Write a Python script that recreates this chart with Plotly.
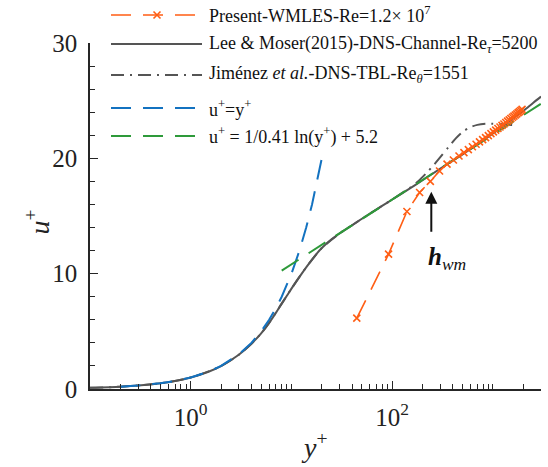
import plotly.graph_objects as go

# ---- data ----
# Present WMLES, Re = 1.2e7
wm_yp = [44.5, 92, 140, 187, 239, 295, 350, 405, 460, 515, 570, 625, 680, 735,
         790, 845, 900, 955, 1010, 1065, 1120, 1175, 1230, 1285, 1340, 1395,
         1450, 1505, 1560, 1615, 1670, 1725, 1780, 1835, 1890, 1945]
wm_up = [6.14, 11.69, 15.39, 17.04, 18.0, 18.9, 19.5, 19.86, 20.2, 20.49,
         20.76, 21.0, 21.22, 21.43, 21.62, 21.8, 21.97, 22.14, 22.29, 22.44,
         22.59, 22.72, 22.86, 22.98, 23.11, 23.23, 23.34, 23.45, 23.56, 23.66,
         23.76, 23.86, 23.96, 24.05, 24.15, 24.24]

# Lee & Moser (2015) channel DNS, Re_tau = 5200
lm_yp = [0.1, 0.2, 0.3, 0.5, 0.7, 1, 1.5, 2, 3, 4, 5, 6, 7, 8, 9, 10, 12, 14,
         16, 18, 20, 25, 30, 40, 50, 60, 80, 100, 150, 200, 300, 400, 500, 700,
         1000, 1500, 2000, 2500, 3000]
lm_up = [0.1, 0.2, 0.3, 0.5, 0.7, 1.0, 1.5, 1.99, 2.97, 3.92, 4.83, 5.74, 6.6,
         7.4, 8.08, 8.7, 9.72, 10.55, 11.22, 11.78, 12.22, 12.98, 13.48, 14.2,
         14.76, 15.2, 15.9, 16.43, 17.4, 18.1, 19.1, 19.8, 20.35, 21.2, 22.15,
         23.3, 24.1, 24.8, 25.35]

# Jimenez et al. boundary-layer DNS, Re_theta = 1551
tbl_yp = [0.1, 0.2, 0.5, 1, 2, 3, 4, 5, 6, 8, 10, 12, 15, 20, 30, 40, 60, 80,
          100, 150, 180, 220, 260, 300, 360, 430, 510, 600, 700, 850, 1000,
          1250, 1550]
tbl_up = [0.1, 0.2, 0.5, 1.0, 1.99, 2.97, 3.92, 4.83, 5.74, 7.4, 8.7, 9.72,
          10.9, 12.22, 13.48, 14.2, 15.2, 15.9, 16.43, 17.45, 18.0, 18.75,
          19.45, 20.1, 20.95, 21.75, 22.35, 22.7, 22.9, 23.0, 23.0, 22.95, 22.9]

# viscous sublayer u+ = y+
vs_yp = [0.2, 0.3, 0.5, 0.7, 1, 1.5, 2, 3, 4, 5, 6, 7, 8, 10, 12, 14, 16, 18, 20]
vs_up = [0.2, 0.3, 0.5, 0.7, 1, 1.5, 2, 3, 4, 5, 6, 7, 8, 10, 12, 14, 16, 18, 20]

# log law u+ = 1/0.41 ln(y+) + 5.2
ll_yp = [8, 3000]
ll_up = [10.27, 24.73]

legend_labels = [
    "Present-WMLES-Re=1.2\u00d7 10<sup>7</sup>",
    "Lee &amp; Moser(2015)-DNS-Channel-Re<sub><i>\u03c4</i></sub>=5200",
    "Jim\u00e9nez <i>et al.</i>-DNS-TBL-Re<sub><i>\u03b8</i></sub>=1551",
    "u<sup>+</sup>=y<sup>+</sup>",
    "u<sup>+</sup> = 1/0.41 ln(y<sup>+</sup>) + 5.2",
]

ORANGE = "#FF5E14"
GRAY = "#555555"
BLUE = "#1372C0"
GREEN = "#2E9A3A"
DASH = "20px,12px"
DASHDOT = "13px,6px,2px,6px"

fig = go.Figure()
fig.add_trace(go.Scatter(x=lm_yp, y=lm_up, mode="lines",
                         line=dict(color=GRAY, width=2, shape="spline",
                                   smoothing=0.8)))
fig.add_trace(go.Scatter(x=tbl_yp, y=tbl_up, mode="lines",
                         line=dict(color=GRAY, width=2, dash=DASHDOT,
                                   shape="spline", smoothing=0.8)))
fig.add_trace(go.Scatter(x=vs_yp, y=vs_up, mode="lines",
                         line=dict(color=BLUE, width=2, dash=DASH)))
fig.add_trace(go.Scatter(x=ll_yp, y=ll_up, mode="lines",
                         line=dict(color=GREEN, width=2, dash=DASH)))
fig.add_trace(go.Scatter(x=wm_yp, y=wm_up, mode="lines+markers",
                         line=dict(color=ORANGE, width=1.6, dash=DASH),
                         marker=dict(symbol="x-thin", size=7,
                                     line=dict(color=ORANGE, width=1.6))))

# plot-area geometry in pixels (for the hand-drawn legend)
W, H = 548, 467
L, R, T, B = 90, 7, 43, 78
pw, ph = W - L - R, H - T - B


def px(xp):
    return (xp - L) / pw


def py(yp):
    return (H - B - yp) / ph


shapes = []
annotations = []
rows = [15, 44, 75, 108, 136]
styles = [(ORANGE, DASH, 1.6), (GRAY, "solid", 2), (GRAY, DASHDOT, 2),
          (BLUE, DASH, 2), (GREEN, DASH, 2)]
for yr, (c, d, w), lab in zip(rows, styles, legend_labels):
    shapes.append(dict(type="line", xref="paper", yref="paper",
                       x0=px(111), x1=px(202), y0=py(yr), y1=py(yr),
                       line=dict(color=c, dash=d, width=w)))
    annotations.append(dict(xref="paper", yref="paper", x=px(207), y=py(yr),
                            text=lab, showarrow=False, xanchor="left",
                            yanchor="middle",
                            font=dict(family="Liberation Serif", size=18,
                                      color="#111111")))
# cross marker on the WMLES legend line
cx, cy, s = 157, rows[0], 3.5
shapes.append(dict(type="path", xref="paper", yref="paper",
                   path=(f"M {px(cx - s)} {py(cy - s)} L {px(cx + s)} {py(cy + s)} "
                         f"M {px(cx - s)} {py(cy + s)} L {px(cx + s)} {py(cy - s)}"),
                   line=dict(color=ORANGE, width=1.6)))

# axis titles
annotations.append(dict(xref="paper", yref="paper", x=px(19), y=py(222),
                        text="<i>u</i><sup>+</sup>", showarrow=False,
                        textangle=-90,
                        font=dict(family="Liberation Serif", size=28,
                                  color="#222222")))
annotations.append(dict(xref="paper", yref="paper", x=px(314), y=py(465),
                        text="<i>y</i><sup>+</sup>", showarrow=False,
                        font=dict(family="Liberation Serif", size=28,
                                  color="#222222")))

# wall-model height marker
annotations.append(dict(x=2.388, y=17.1, ax=2.388, ay=13.5, xref="x", yref="y",
                        axref="x", ayref="y", text="", showarrow=True,
                        arrowhead=2, arrowsize=1.2, arrowwidth=2,
                        arrowcolor="#111111"))
annotations.append(dict(x=2.547, y=11.3, xref="x", yref="y",
                        text="<b><i>h</i></b><sub><i>wm</i></sub>",
                        showarrow=False,
                        font=dict(family="Liberation Serif", size=25,
                                  color="#111111")))

minor_x = []
for dec in [0.1, 1, 10, 100, 1000]:
    for k in range(1, 10):
        v = dec * k
        if 0.1 < v <= 3000 and v not in (1, 100):
            minor_x.append(v)

axis_font = dict(family="Liberation Serif", size=25, color="#222222")
fig.update_layout(
    width=W, height=H,
    margin=dict(l=L, r=R, t=T, b=B),
    paper_bgcolor="white", plot_bgcolor="white",
    showlegend=False,
    shapes=shapes, annotations=annotations,
    xaxis=dict(type="log", range=[-1, 3.477], showgrid=False, zeroline=False,
               showline=True, linecolor="#262626", linewidth=1.5,
               tickmode="array", tickvals=[1, 100],
               ticktext=["10<sup>0</sup>", "10<sup>2</sup>"],
               ticks="inside", ticklen=8, tickwidth=1.2, tickcolor="#262626",
               ticklabelstandoff=5, tickfont=axis_font,
               minor=dict(tickmode="array", tickvals=minor_x, ticks="inside",
                          ticklen=5, tickwidth=1.2, tickcolor="#262626",
                          showgrid=False)),
    yaxis=dict(range=[0, 30], showgrid=False, zeroline=False,
               showline=True, linecolor="#262626", linewidth=1.5,
               tickmode="array", tickvals=[0, 10, 20, 30],
               ticks="inside", ticklen=8, tickwidth=1.2, tickcolor="#262626",
               ticklabelstandoff=6, tickfont=axis_font,
               minor=dict(tickmode="linear", dtick=2, ticks="inside",
                          ticklen=5, tickwidth=1.2, tickcolor="#262626",
                          showgrid=False)),
)

fig.write_html("out.html")
